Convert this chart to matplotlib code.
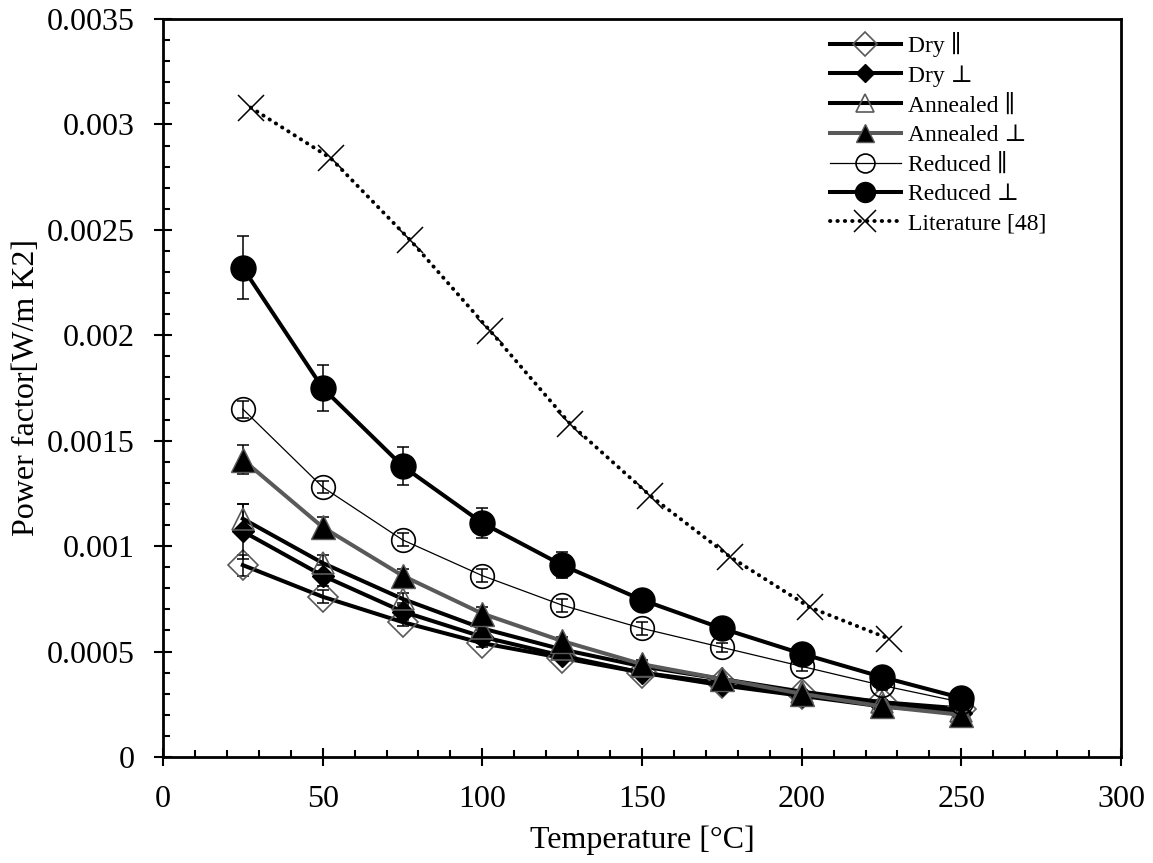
import numpy as np
import matplotlib
matplotlib.use('Agg')
import matplotlib.pyplot as plt
from matplotlib.ticker import MultipleLocator, FuncFormatter

plt.rcParams['font.family'] = ['Liberation Serif', 'DejaVu Serif']
plt.rcParams['font.size'] = 23

# temperatures [C]
temp = [25, 50, 75, 100, 125, 150, 175, 200, 225, 250]
lit_temp = [27.5, 52.5, 77.5, 102.5, 127.5, 152.5, 177.5, 202.5, 227.5]

# power factor [W/m K2]
dry_par = [0.00091, 0.00076, 0.00064, 0.00054, 0.00047, 0.00040, 0.00035, 0.00030, 0.00026, 0.00023]
dry_perp = [0.00107, 0.00086, 0.00069, 0.00057, 0.00048, 0.00040, 0.00034, 0.00029, 0.00024, 0.00021]
ann_par = [0.00113, 0.00092, 0.00075, 0.00061, 0.00051, 0.00043, 0.00037, 0.00031, 0.00026, 0.00022]
ann_perp = [0.00141, 0.00109, 0.00086, 0.00068, 0.00055, 0.00044, 0.00037, 0.00030, 0.00024, 0.00020]
red_par = [0.00165, 0.00128, 0.00103, 0.00086, 0.00072, 0.00061, 0.00052, 0.00043, 0.00034, 0.00026]
red_perp = [0.00232, 0.00175, 0.00138, 0.00111, 0.00091, 0.000745, 0.00061, 0.00049, 0.00038, 0.00028]
literature = [0.00308, 0.00284, 0.00245, 0.00202, 0.00158, 0.00124, 0.00095, 0.00071, 0.00056]

# error bars
dry_par_err = [0.00005, 0.00003, 0.00002, 0.00002, 0.00001, 0.00001, 0.00001, 0.00001, 0.00001, 0.00001]
dry_perp_err = [0.00013, 0.00005, 0.00004, 0.00003, 0.00002, 0.00002, 0.00001, 0.00001, 0.00001, 0.00001]
ann_par_err = [0.00007, 0.00004, 0.00003, 0.00002, 0.00002, 0.00001, 0.00001, 0.00001, 0.00001, 0.00001]
ann_perp_err = [0.00007, 0.00005, 0.00003, 0.00003, 0.00002, 0.00002, 0.00001, 0.00001, 0.00001, 0.00001]
red_par_err = [0.00004, 0.00003, 0.00003, 0.00003, 0.00003, 0.00003, 0.00002, 0.00002, 0.00002, 0.00002]
red_perp_err = [0.00015, 0.00011, 0.00009, 0.00007, 0.00006, 0.00003, 0.00003, 0.00002, 0.00002, 0.00002]

fig = plt.figure(figsize=(11.53, 8.63), dpi=100)
ax = fig.add_axes([163 / 1153, 1 - 757 / 863, (1121 - 163) / 1153, (757 - 19) / 863])

grey = '#595959'
series = [
    ('Dry ∥', dry_par, dry_par_err, dict(color='black', lw=2.9, marker='D', ms=15, mfc='none', mec=grey, mew=1.2)),
    ('Dry ⊥', dry_perp, dry_perp_err, dict(color='black', lw=2.9, marker='D', ms=11, mfc='black', mec='black')),
    ('Annealed ∥', ann_par, ann_par_err, dict(color='black', lw=2.9, marker='^', ms=16, mfc='none', mec=grey, mew=1.2)),
    ('Annealed ⊥', ann_perp, ann_perp_err, dict(color=grey, lw=2.9, marker='^', ms=17, mfc='black', mec=grey, mew=1)),
    ('Reduced ∥', red_par, red_par_err, dict(color='black', lw=0.9, marker='o', ms=17, mfc='none', mec='black', mew=1.2)),
    ('Reduced ⊥', red_perp, red_perp_err, dict(color='black', lw=2.9, marker='o', ms=18, mfc='black', mec='black')),
]

for label, vals, err, style in series:
    ax.errorbar(temp, vals, yerr=err, fmt='none', ecolor='black', elinewidth=1.1,
                capsize=4.5, capthick=1.1)
    ax.plot(temp, vals, label=label, **style)

# literature data, dotted
ax.plot(lit_temp, literature, color='black', lw=2.8, ls=(0, (0.1, 1.8)),
        dash_capstyle='round', marker='x', ms=19, mew=1.1, label='Literature [48]')

ax.set_xlim(0, 300)
ax.set_ylim(0, 0.0035)
ax.xaxis.set_major_locator(MultipleLocator(50))
ax.xaxis.set_minor_locator(MultipleLocator(10))
ax.yaxis.set_major_locator(MultipleLocator(0.0005))
ax.yaxis.set_minor_locator(MultipleLocator(0.0001))
ax.yaxis.set_major_formatter(FuncFormatter(lambda v, p: '{:g}'.format(round(v, 6))))

ax.tick_params(which='major', direction='inout', length=13, width=1.5, pad=14)
ax.tick_params(which='minor', direction='in', length=5, width=1.5)
ax.tick_params(top=False, right=False, which='both')
for s in ax.spines.values():
    s.set_linewidth(2)

ax.set_xlabel('Temperature [°C]', labelpad=8)
ax.set_ylabel('Power factor[W/m K2]', labelpad=4)

ax.legend(loc='upper left', frameon=False, fontsize=17, handlelength=3.0,
          handletextpad=0.3, labelspacing=0.33, borderpad=0, borderaxespad=0,
          markerscale=0.8, bbox_to_anchor=(0.696, 0.982))

fig.savefig('out.png', dpi=100)
